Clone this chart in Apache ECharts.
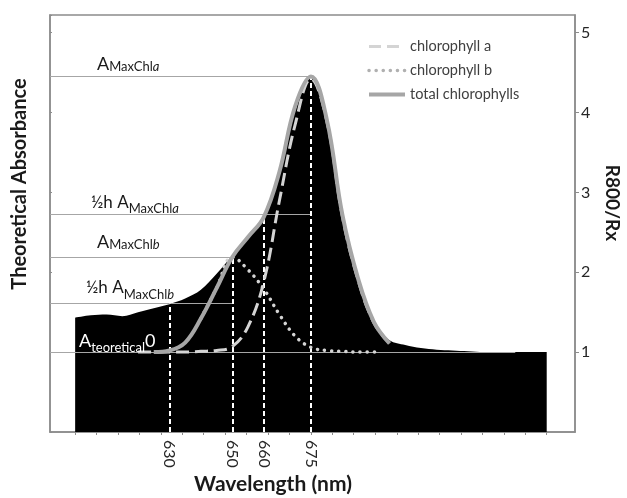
<!DOCTYPE html>
<html>
<head>
<meta charset="utf-8">
<script src="https://cdn.jsdelivr.net/npm/echarts@6/dist/echarts.min.js"></script>
<style>
  html, body { margin: 0; padding: 0; background: #fff; }
  #main { width: 627px; height: 498px; }
</style>
</head>
<body>
<div id="main"></div>
<script>
// R800/Rx ratio (black area), 5 nm steps
var ratioNm = [600, 605, 610, 615, 620, 625, 630, 635, 640, 645, 650, 655, 660, 665, 670, 675,
  680, 685, 690, 695, 700, 705, 710, 715, 720, 725, 730, 735, 740, 745, 750];
var ratioVals = [1.43, 1.46, 1.47, 1.45, 1.50, 1.55, 1.60, 1.67, 1.78, 1.98, 2.21, 2.42, 2.66, 3.22, 4.02, 4.43,
  3.86, 2.68, 1.88, 1.36, 1.15, 1.09, 1.05, 1.03, 1.02, 1.01, 1.00, 1.00, 1.00, 1.00, 1.00];

// theoretical absorbance curves
var chlANm = [620, 625, 630, 635, 640, 645, 650, 655, 660, 665, 670, 675, 680, 685, 690, 695, 700];
var chlAVals = [1.00, 1.00, 1.00, 1.00, 1.01, 1.02, 1.07, 1.32, 1.88, 2.90, 3.85, 4.42, 3.90, 2.70, 1.90, 1.37, 1.11];
var chlBNm = [640, 645, 650, 655, 660, 665, 670, 675, 680, 685, 690, 697];
var chlBVals = [1.42, 1.80, 2.19, 2.03, 1.79, 1.47, 1.20, 1.06, 1.02, 1.01, 1.00, 1.00];
var totalNm = [625, 630, 635, 640, 645, 650, 655, 660, 665, 670, 675, 680, 685, 690, 695, 700];
var totalVals = [1.00, 1.02, 1.12, 1.42, 1.80, 2.19, 2.44, 2.69, 3.26, 4.08, 4.45, 3.92, 2.72, 1.92, 1.38, 1.11];

// reference levels (horizontal lines) and marked wavelengths (vertical lines)
var refLevels = [4.45, 2.72, 2.19, 1.61, 1.00];
var refEndNm = [675, 675, 650, 650, 740];
var markNm = [630, 650, 660, 675];
var markTop = [1.61, 2.19, 2.72, 4.45];

// axis ticks
var xTicks = [600, 606.8, 613.6, 620.5, 627.3, 634.1, 640.9, 647.7, 654.5, 661.4, 668.2, 675,
  681.8, 688.6, 695.5, 702.3, 709.1, 715.9, 722.7, 729.5, 736.4, 743.2, 750];
var xLabels = [630, 650, 660, 675];
var yLabels = [1, 2, 3, 4, 5];
var xMin = 592, xMax = 759;
var yMax = 5.22;

var FONT = 'Lato, "Open Sans", sans-serif';

function pairs(xs, ys) {
  return xs.map(function (x, i) { return [x, ys[i]]; });
}

var markData = [];
refLevels.forEach(function (v, i) {
  markData.push([{ coord: [xMin, v] }, { coord: [refEndNm[i], v] }]);
});
markNm.forEach(function (nm, i) {
  markData.push([
    { coord: [nm, 0], lineStyle: { color: '#ffffff', width: 2, type: [5, 3] } },
    { coord: [nm, markTop[i]] }
  ]);
});

var chart = echarts.init(document.getElementById('main'));

var option = {
  animation: false,
  grid: {
    left: 50, right: 52, top: 15, bottom: 66,
    show: true, borderColor: '#8c8c8c', borderWidth: 1.5,
    outerBoundsMode: 'none'
  },
  legend: {
    orient: 'vertical',
    left: 362, top: 34,
    itemWidth: 36, itemHeight: 14, itemGap: 9,
    itemStyle: { opacity: 0 },
    textStyle: { fontFamily: FONT, fontSize: 14.5, color: '#404040' },
    data: [
      { name: 'chlorophyll a', lineStyle: { width: 3, type: [12, 6] } },
      { name: 'chlorophyll b', lineStyle: { width: 3.5, type: [0.1, 7], cap: 'round', color: '#b0b0b0' } },
      { name: 'total chlorophylls', lineStyle: { width: 4 } }
    ]
  },
  xAxis: {
    type: 'value', min: xMin, max: xMax,
    axisLine: { lineStyle: { color: '#8c8c8c', width: 1.5 } },
    axisTick: { show: true, customValues: xTicks, length: 3, lineStyle: { color: '#8c8c8c' } },
    axisLabel: {
      customValues: xLabels, rotate: -90, margin: 8,
      fontFamily: FONT, fontSize: 16, color: '#262626'
    },
    splitLine: { show: false }
  },
  yAxis: [
    {
      type: 'value', position: 'left', min: 0, max: yMax, interval: 1,
      axisLine: { show: true, lineStyle: { color: '#8c8c8c', width: 1.5 } },
      axisTick: { show: true, inside: true, length: 2, lineStyle: { color: '#8c8c8c' } },
      axisLabel: { show: false },
      splitLine: { show: false }
    },
    {
      type: 'value', position: 'right', min: 0, max: yMax, interval: 1,
      axisLine: { show: true, lineStyle: { color: '#8c8c8c', width: 1.5 } },
      axisTick: { show: true, length: 4, customValues: yLabels, lineStyle: { color: '#8c8c8c' } },
      axisLabel: {
        customValues: yLabels, margin: 6, fontFamily: FONT, fontSize: 16, color: '#262626'
      },
      splitLine: { show: false }
    }
  ],
  series: [
    {
      name: 'R800/Rx', type: 'line', yAxisIndex: 1, z: 2,
      data: pairs(ratioNm, ratioVals),
      smooth: 0.35, symbol: 'none', silent: true,
      lineStyle: { width: 0 },
      areaStyle: { color: '#000000', opacity: 1 },
      markLine: {
        silent: true, symbol: ['none', 'none'],
        label: { show: false },
        lineStyle: { color: '#a6a6a6', width: 1, type: 'solid' },
        data: markData
      }
    },
    {
      name: 'chlorophyll a', type: 'line', z: 6,
      data: pairs(chlANm, chlAVals),
      smooth: 0.4, symbol: 'none', silent: true,
      itemStyle: { color: '#d4d4d4' },
      lineStyle: { color: '#d4d4d4', width: 3, type: [13, 6] }
    },
    {
      name: 'chlorophyll b', type: 'line', z: 6,
      data: pairs(chlBNm, chlBVals),
      smooth: 0.4, symbol: 'none', silent: true,
      itemStyle: { color: '#d4d4d4' },
      lineStyle: { color: '#d4d4d4', width: 3.5, type: [0.1, 7], cap: 'round' }
    },
    {
      name: 'total chlorophylls', type: 'line', z: 7,
      data: pairs(totalNm, totalVals),
      smooth: 0.4, symbol: 'none', silent: true,
      itemStyle: { color: '#a6a6a6' },
      lineStyle: { color: '#a6a6a6', width: 4 }
    }
  ]
};

chart.setOption(option);

// labels on the reference lines, built from text pieces (big A + smaller subscript parts)
var ctx = document.createElement('canvas').getContext('2d');
function fontStr(p) {
  return (p.italic ? 'italic ' : '') + (p.bold ? 'bold ' : '') + p.size + 'px ' + FONT;
}
function pieceLabel(x, yBottom, parts, color) {
  var els = [];
  parts.forEach(function (p) {
    ctx.font = fontStr(p);
    els.push({
      type: 'text', x: x, y: yBottom + (p.dy || 0), silent: true, z: 10,
      style: {
        text: p.text, fill: color, font: fontStr(p),
        align: 'left', verticalAlign: 'bottom'
      }
    });
    x += ctx.measureText(p.text).width;
  });
  return els;
}

var refTexts = [
  { x: 97, gap: 3, parts: [{ text: 'A', size: 18 }, { text: 'MaxChl', size: 13 }, { text: 'a', size: 13, italic: true }] },
  { x: 91, gap: 4, parts: [{ text: '½h A', size: 17 }, { text: 'MaxChl', size: 13, dy: 5 }, { text: 'a', size: 13, italic: true, dy: 5 }] },
  { x: 97, gap: 6, parts: [{ text: 'A', size: 18 }, { text: 'MaxChl', size: 13 }, { text: 'b', size: 13, italic: true }] },
  { x: 86, gap: 7, parts: [{ text: '½h A', size: 17 }, { text: 'MaxChl', size: 13, dy: 5 }, { text: 'b', size: 13, italic: true, dy: 5 }] },
  { x: 79, gap: 2, parts: [{ text: 'A', size: 18 }, { text: 'teoretical', size: 13, dy: 4 }, { text: '0', size: 18 }] }
];

var graphics = [];
refTexts.forEach(function (r, i) {
  var y = chart.convertToPixel({ yAxisIndex: 0 }, refLevels[i]);
  graphics = graphics.concat(pieceLabel(r.x, y - r.gap, r.parts, i === 4 ? '#ffffff' : '#1a1a1a'));
});

graphics.push({
  type: 'text', x: 20, y: 184, rotation: Math.PI / 2, silent: true,
  style: { text: 'Theoretical Absorbance', font: 'bold 20px ' + FONT, fill: '#1a1a1a', align: 'center', verticalAlign: 'middle' }
});
graphics.push({
  type: 'text', x: 612, y: 203, rotation: -Math.PI / 2, silent: true,
  style: { text: 'R800/Rx', font: 'bold 19px ' + FONT, fill: '#1a1a1a', align: 'center', verticalAlign: 'middle' }
});
graphics.push({
  type: 'text', x: 273, y: 484, silent: true,
  style: { text: 'Wavelength (nm)', font: 'bold 21px ' + FONT, fill: '#1a1a1a', align: 'center', verticalAlign: 'middle' }
});

chart.setOption({ graphic: graphics });
</script>
</body>
</html>
